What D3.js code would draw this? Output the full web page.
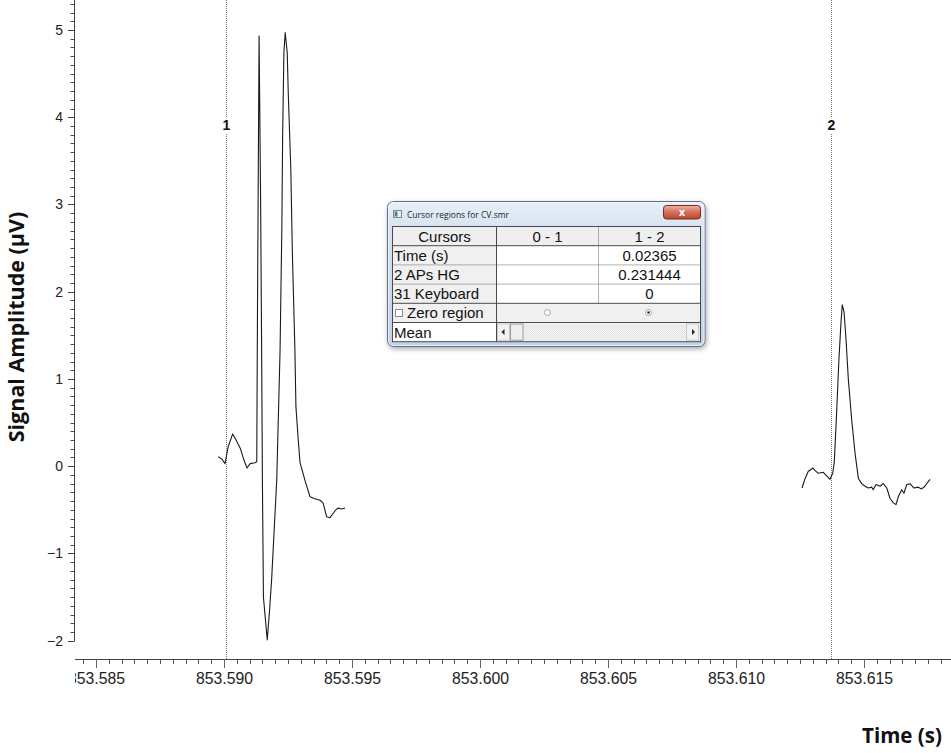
<!DOCTYPE html>
<html>
<head>
<meta charset="utf-8">
<script src="https://cdn.jsdelivr.net/npm/d3@7"></script>
<style>
  html, body { margin: 0; padding: 0; background: #fff; }
  svg { display: block; }
  .tick-y text { font-family: "Liberation Sans", Arial, sans-serif; font-size: 14px; fill: #222; }
  .tick-x text { font-family: "Liberation Sans", Arial, sans-serif; font-size: 15.8px; fill: #222; }
</style>
</head>
<body>
<svg id="chart" width="951" height="753"></svg>
<script>
// ---- Recorded sweep: two captured stretches of the "2 APs HG" channel ----
const trace1Time = [
  853.58977, 853.58992, 853.59004, 853.59016, 853.59034, 853.59047, 853.59063,
  853.59078, 853.59090, 853.59102, 853.59121, 853.59128, 853.59131, 853.59137,
  853.59143, 853.59147, 853.59150, 853.59154, 853.59169, 853.59178, 853.59186,
  853.59206, 853.59219, 853.59226, 853.59229, 853.59234, 853.59239, 853.59247,
  853.59251, 853.59261, 853.59267, 853.59277, 853.59281, 853.59290, 853.59297,
  853.59316, 853.59336, 853.59352, 853.59375, 853.59387, 853.59401, 853.59414,
  853.59434, 853.59445, 853.59460, 853.59473
];
const trace1Amp = [
  0.11, 0.08, 0.03, 0.22, 0.37, 0.30, 0.21,
  0.07, -0.02, 0.03, 0.04, 0.05, 1.91, 4.93,
  3.05, 1.33, -0.16, -1.50, -1.99, -1.65, -1.30,
  -0.16, 1.33, 2.74, 3.77, 4.74, 4.97, 4.74,
  4.28, 3.40, 2.45, 1.33, 0.68, 0.30, 0.04,
  -0.16, -0.35, -0.37, -0.39, -0.42, -0.58, -0.59,
  -0.51, -0.48, -0.49, -0.48
];
const trace2Time = [
  853.61258, 853.61270, 853.61282, 853.61300, 853.61309, 853.61321, 853.61341,
  853.61354, 853.61367, 853.61378, 853.61384, 853.61393, 853.61402, 853.61410,
  853.61415, 853.61422, 853.61429, 853.61439, 853.61452, 853.61465, 853.61478,
  853.61491, 853.61504, 853.61517, 853.61530, 853.61536, 853.61547, 853.61563,
  853.61575, 853.61589, 853.61602, 853.61615, 853.61625, 853.61634, 853.61647,
  853.61656, 853.61667, 853.61680, 853.61695, 853.61712, 853.61725, 853.61738,
  853.61747, 853.61758
];
const trace2Amp = [
  -0.25, -0.14, -0.06, -0.02, -0.05, -0.08, -0.07,
  -0.11, -0.15, -0.08, 0.05, 0.61, 1.22, 1.64,
  1.85, 1.77, 1.49, 0.99, 0.53, 0.15, -0.14,
  -0.20, -0.23, -0.25, -0.24, -0.27, -0.21, -0.23,
  -0.20, -0.25, -0.37, -0.42, -0.44, -0.35, -0.27,
  -0.31, -0.21, -0.20, -0.25, -0.24, -0.26, -0.23,
  -0.19, -0.15
];

// ---- Cursors ----
const cursorNames = ["1", "2"];
const cursorTimes = [853.59006, 853.61371];

// ---- Axis ticks ----
const xTickValues = [853.585, 853.590, 853.595, 853.600, 853.605, 853.610, 853.615];
const yTickValues = [-2, -1, 0, 1, 2, 3, 4, 5];
const xLabel = "Time (s)";
const yLabel = "Signal Amplitude (\u00b5V)";

// ---- Cursor regions table ----
const dialogTitle = "Cursor regions for CV.smr";
const dialogColumns = ["Cursors", "0 - 1", "1 - 2"];
const dialogRowNames = ["Time (s)", "2 APs HG", "31 Keyboard"];
const dialogChannelValues = ["0.231444", "0"];

const svg = d3.select("#chart");

// Scales
const x = d3.scaleLinear().domain([853.585, 853.615]).range([96, 864]);
const xLeft = 75, xRight = 951;
const y = d3.scaleLinear().domain([-2, 5]).range([640.7, 30]);
const yTop = 0, yBottom = y(-2);
const xAxisY = 659;
const yAxisX = 74;

const defs = svg.append("defs");
defs.append("clipPath").attr("id", "xclip")
  .append("rect").attr("x", xLeft).attr("y", 0).attr("width", xRight - xLeft).attr("height", 60);

// ---- Y axis ----
const yMinor = d3.range(-20, 54).map(d => d / 10).filter(d => Math.abs(d - Math.round(d)) > 1e-6);
const gy = svg.append("g").attr("class", "tick-y").attr("transform", `translate(${yAxisX},0)`);
gy.append("line").attr("x1", 0.5).attr("x2", 0.5).attr("y1", yTop).attr("y2", yBottom + 0.5)
  .attr("stroke", "#444").attr("stroke-width", 1);
gy.append("g").selectAll("line.minor")
  .data(yMinor)
  .join("line")
  .attr("class", "minor")
  .attr("x1", 0.5).attr("x2", -3.5)
  .attr("y1", d => Math.round(y(d)) + 0.5)
  .attr("y2", d => Math.round(y(d)) + 0.5)
  .attr("stroke", "#4a4a4a")
  .attr("stroke-width", 1);
{
  const majorAxis = d3.axisLeft(y).tickValues(yTickValues).tickSize(6).tickSizeOuter(0).tickFormat(d3.format("d"));
  const maj = gy.append("g").call(majorAxis);
  maj.select(".domain").remove();
  maj.selectAll(".tick").attr("transform", d => `translate(0,${Math.round(y(d)) + 0.5})`);
  maj.selectAll("line").attr("stroke", "#444").attr("x1", 0.5).attr("x2", -6);
  maj.selectAll("text").attr("font-family", null).attr("font-size", null).attr("fill", null).attr("x", -11);
}

// ---- X axis ----
const xMinor = d3.range(0, 70).map(i => 853.5845 + i * 0.0005)
  .filter(v => x(v) >= xLeft && x(v) <= xRight)
  .filter(v => xTickValues.every(t => Math.abs(t - v) > 1e-7));
const gx = svg.append("g").attr("class", "tick-x").attr("transform", `translate(0,${xAxisY})`);
gx.append("line").attr("x1", xLeft).attr("x2", xRight).attr("y1", 0.5).attr("y2", 0.5)
  .attr("stroke", "#444").attr("stroke-width", 1);
gx.append("g").selectAll("line.minor")
  .data(xMinor)
  .join("line")
  .attr("class", "minor")
  .attr("x1", d => Math.round(x(d)) + 0.5)
  .attr("x2", d => Math.round(x(d)) + 0.5)
  .attr("y1", 0.5).attr("y2", 5)
  .attr("stroke", "#555");
{
  const majorAxis = d3.axisBottom(x).tickValues(xTickValues).tickSize(9).tickSizeOuter(0).tickFormat(d3.format(".3f"));
  const maj = gx.append("g").attr("clip-path", "url(#xclip)");
  const inner = maj.append("g").call(majorAxis);
  inner.select(".domain").remove();
  inner.selectAll(".tick").attr("transform", d => `translate(${Math.round(x(d)) + 0.5},0)`);
  inner.selectAll("line").attr("stroke", "#666");
  inner.selectAll("text").attr("font-family", null).attr("font-size", null).attr("fill", null)
    .attr("y", 13.5).attr("dy", "0.71em");
}

// ---- Axis titles ----
svg.append("text")
  .attr("transform", `translate(24,327) rotate(-90)`)
  .attr("text-anchor", "middle")
  .attr("font-family", "'Open Sans', sans-serif")
  .attr("font-weight", "bold")
  .attr("font-size", 21.5)
  .attr("fill", "#111")
  .text(yLabel);
svg.append("text")
  .attr("x", 902).attr("y", 743)
  .attr("text-anchor", "middle")
  .attr("font-family", "'Open Sans', sans-serif")
  .attr("font-weight", "bold")
  .attr("font-size", 20.5)
  .attr("fill", "#111")
  .text(xLabel);

// ---- Cursors ----
const cur = svg.append("g");
cursorTimes.forEach((t, i) => {
  const cx = Math.round(x(t)) + 0.5;
  cur.append("line").attr("x1", cx).attr("x2", cx).attr("y1", 0).attr("y2", xAxisY)
    .attr("stroke", "#7a7a7a").attr("stroke-width", 1).attr("stroke-dasharray", "1,1");
  cur.append("rect").attr("x", cx - 5).attr("y", 117).attr("width", 10).attr("height", 16).attr("fill", "#fff");
  cur.append("text").attr("x", cx).attr("y", 130)
    .attr("text-anchor", "middle")
    .attr("font-family", "'Liberation Sans', Arial, sans-serif")
    .attr("font-weight", "bold").attr("font-size", 14).attr("fill", "#111")
    .text(cursorNames[i]);
});

// ---- Traces ----
const line = d3.line().x(d => x(d[0])).y(d => y(d[1]));
[[trace1Time, trace1Amp], [trace2Time, trace2Amp]].forEach(([tt, aa]) => {
  svg.append("path")
    .datum(tt.map((t, i) => [t, aa[i]]))
    .attr("d", line)
    .attr("fill", "none")
    .attr("stroke", "#1a1a1a")
    .attr("stroke-width", 1.1)
    .attr("stroke-linejoin", "round");
});

// ---- Cursor regions window ----
const dlg = svg.append("g");
const shadow = defs.append("filter").attr("id", "shadow").attr("x", "-10%").attr("y", "-10%").attr("width", "120%").attr("height", "130%");
shadow.append("feDropShadow").attr("dx", 1).attr("dy", 2).attr("stdDeviation", 2.5).attr("flood-color", "#000").attr("flood-opacity", 0.35);
const frameGrad = defs.append("linearGradient").attr("id", "frameGrad").attr("x1", 0).attr("y1", 0).attr("x2", 0).attr("y2", 1);
frameGrad.append("stop").attr("offset", "0").attr("stop-color", "#e9f0f8");
frameGrad.append("stop").attr("offset", "0.18").attr("stop-color", "#d6e3f1");
frameGrad.append("stop").attr("offset", "1").attr("stop-color", "#bfd2e8");
const closeGrad = defs.append("linearGradient").attr("id", "closeGrad").attr("x1", 0).attr("y1", 0).attr("x2", 0).attr("y2", 1);
closeGrad.append("stop").attr("offset", "0").attr("stop-color", "#eab3a6");
closeGrad.append("stop").attr("offset", "0.5").attr("stop-color", "#d0705c");
closeGrad.append("stop").attr("offset", "1").attr("stop-color", "#c0452f");

const fx0 = 387.5, fy0 = 201.5, fx1 = 705, fy1 = 346.5;
dlg.append("rect").attr("x", fx0).attr("y", fy0).attr("width", fx1 - fx0).attr("height", fy1 - fy0)
  .attr("rx", 6).attr("fill", "url(#frameGrad)").attr("stroke", "#5d718a").attr("stroke-width", 1)
  .attr("filter", "url(#shadow)");
dlg.append("rect").attr("x", fx0 + 1).attr("y", fy0 + 1).attr("width", fx1 - fx0 - 2).attr("height", fy1 - fy0 - 2)
  .attr("rx", 5).attr("fill", "none").attr("stroke", "#f4f8fc").attr("stroke-width", 1).attr("opacity", 0.8);

// title icon + caption
dlg.append("rect").attr("x", 393.5).attr("y", 210.5).attr("width", 8).attr("height", 7)
  .attr("fill", "#e8eef3").attr("stroke", "#7d8a96");
dlg.append("rect").attr("x", 394.5).attr("y", 211.5).attr("width", 3).attr("height", 5).attr("fill", "#4f8a6e");
dlg.append("text").attr("x", 407).attr("y", 217.5)
  .attr("font-family", "'Open Sans', 'DejaVu Sans', sans-serif").attr("font-size", 9.2).attr("fill", "#222")
  .attr("textLength", 102).attr("lengthAdjust", "spacingAndGlyphs")
  .text(dialogTitle);
// close button
dlg.append("rect").attr("x", 663.5).attr("y", 205.5).attr("width", 37).attr("height", 13.5).attr("rx", 3)
  .attr("fill", "url(#closeGrad)").attr("stroke", "#7a2b1f");
dlg.append("text").attr("x", 682).attr("y", 216)
  .attr("text-anchor", "middle")
  .attr("font-family", "'DejaVu Sans', sans-serif").attr("font-weight", "bold").attr("font-size", 10).attr("fill", "#fff")
  .text("x");

// table grid
const colX = [392.5, 496.5, 598.5, 700.5];
const rowH = 19.2;
const rowY0 = 226.5;
const rowY = d3.range(7).map(i => rowY0 + i * rowH);
const cellFont = "'Liberation Sans', Arial, sans-serif";

dlg.append("rect").attr("x", colX[0]).attr("y", rowY[0]).attr("width", colX[3] - colX[0]).attr("height", rowY[6] - rowY[0])
  .attr("fill", "#fff");
// grey header row, grey label column, grey zero-region row
dlg.append("rect").attr("x", colX[0]).attr("y", rowY[0]).attr("width", colX[3] - colX[0]).attr("height", rowH).attr("fill", "#efefef");
dlg.append("rect").attr("x", colX[0]).attr("y", rowY[1]).attr("width", colX[1] - colX[0]).attr("height", rowH * 3).attr("fill", "#f0f0f0");
dlg.append("rect").attr("x", colX[0]).attr("y", rowY[4]).attr("width", colX[3] - colX[0]).attr("height", rowH).attr("fill", "#f0f0f0");

const solid = "#4a4a4a";
const dotted = "#666";
// horizontal rules
[1, 4, 5].forEach(r => dlg.append("line").attr("x1", colX[0]).attr("x2", colX[3]).attr("y1", rowY[r]).attr("y2", rowY[r]).attr("stroke", solid));
[2, 3].forEach(r => dlg.append("line").attr("x1", colX[0]).attr("x2", colX[3]).attr("y1", rowY[r]).attr("y2", rowY[r])
  .attr("stroke", dotted).attr("stroke-dasharray", "1,1"));
// vertical rules
dlg.append("line").attr("x1", colX[1]).attr("x2", colX[1]).attr("y1", rowY[0]).attr("y2", rowY[6]).attr("stroke", solid);
dlg.append("line").attr("x1", colX[2]).attr("x2", colX[2]).attr("y1", rowY[0]).attr("y2", rowY[4])
  .attr("stroke", dotted).attr("stroke-dasharray", "1,1");
// outer border
dlg.append("rect").attr("x", colX[0]).attr("y", rowY[0]).attr("width", colX[3] - colX[0]).attr("height", rowY[6] - rowY[0])
  .attr("fill", "none").attr("stroke", solid);

// header captions
dialogColumns.forEach((c, i) => {
  dlg.append("text").attr("x", (colX[i] + colX[i + 1]) / 2).attr("y", rowY[0] + 15)
    .attr("text-anchor", "middle").attr("font-family", cellFont).attr("font-size", 15).attr("fill", "#111").text(c);
});
// row captions
dialogRowNames.forEach((c, i) => {
  dlg.append("text").attr("x", colX[0] + 1.5).attr("y", rowY[i + 1] + 15)
    .attr("font-family", cellFont).attr("font-size", 15).attr("fill", "#111").text(c);
});
// values for cursor region 1 - 2: elapsed time is the gap between the two cursors
const regionValues = [d3.format(".5f")(cursorTimes[1] - cursorTimes[0]), ...dialogChannelValues];
regionValues.forEach((v, i) => {
  dlg.append("text").attr("x", (colX[2] + colX[3]) / 2).attr("y", rowY[i + 1] + 15)
    .attr("text-anchor", "middle").attr("font-family", cellFont).attr("font-size", 15).attr("fill", "#111").text(v);
});

// zero region row: checkbox and radio buttons
dlg.append("rect").attr("x", 395.5).attr("y", 309.5).attr("width", 7).attr("height", 7).attr("fill", "#fff").attr("stroke", "#8a8a8a");
dlg.append("text").attr("x", 407).attr("y", rowY[4] + 15)
  .attr("font-family", cellFont).attr("font-size", 15).attr("fill", "#111").text("Zero region");
[[547.5, false], [648.5, true]].forEach(([rx, on]) => {
  dlg.append("circle").attr("cx", rx).attr("cy", 312.5).attr("r", 3).attr("fill", "#fff")
    .attr("stroke", "#9a9a9a").attr("stroke-width", 0.9);
  if (on) dlg.append("circle").attr("cx", rx).attr("cy", 312.5).attr("r", 1.2).attr("fill", "#222");
});

// mean row with scroll bar
dlg.append("text").attr("x", colX[0] + 1.5).attr("y", rowY[5] + 15)
  .attr("font-family", cellFont).attr("font-size", 15).attr("fill", "#111").text("Mean");
const track = defs.append("pattern").attr("id", "track").attr("width", 2).attr("height", 2).attr("patternUnits", "userSpaceOnUse");
track.append("rect").attr("width", 2).attr("height", 2).attr("fill", "#f6f6f6");
track.append("rect").attr("width", 1).attr("height", 1).attr("fill", "#e2e2e2");
track.append("rect").attr("x", 1).attr("y", 1).attr("width", 1).attr("height", 1).attr("fill", "#e2e2e2");
const sbY = rowY[5] + 1, sbH = rowH - 2;
dlg.append("rect").attr("x", colX[1] + 0.5).attr("y", sbY).attr("width", colX[3] - colX[1] - 1).attr("height", sbH).attr("fill", "url(#track)");
dlg.append("rect").attr("x", 497.5).attr("y", sbY + 0.5).attr("width", 12).attr("height", sbH - 1).attr("fill", "#f2f2f2").attr("stroke", "#c9c9c9");
dlg.append("rect").attr("x", 510.5).attr("y", sbY + 0.5).attr("width", 12.5).attr("height", sbH - 1).attr("fill", "#efefef").attr("stroke", "#9a9a9a");
dlg.append("rect").attr("x", 686.5).attr("y", sbY + 0.5).attr("width", 12).attr("height", sbH - 1).attr("fill", "#f2f2f2").attr("stroke", "#c9c9c9");
dlg.append("path").attr("d", `M501.5,${sbY + sbH / 2} l3,-3 v6 z`).attr("fill", "#222");
dlg.append("path").attr("d", `M695,${sbY + sbH / 2} l-3,-3 v6 z`).attr("fill", "#222");
</script>
</body>
</html>
